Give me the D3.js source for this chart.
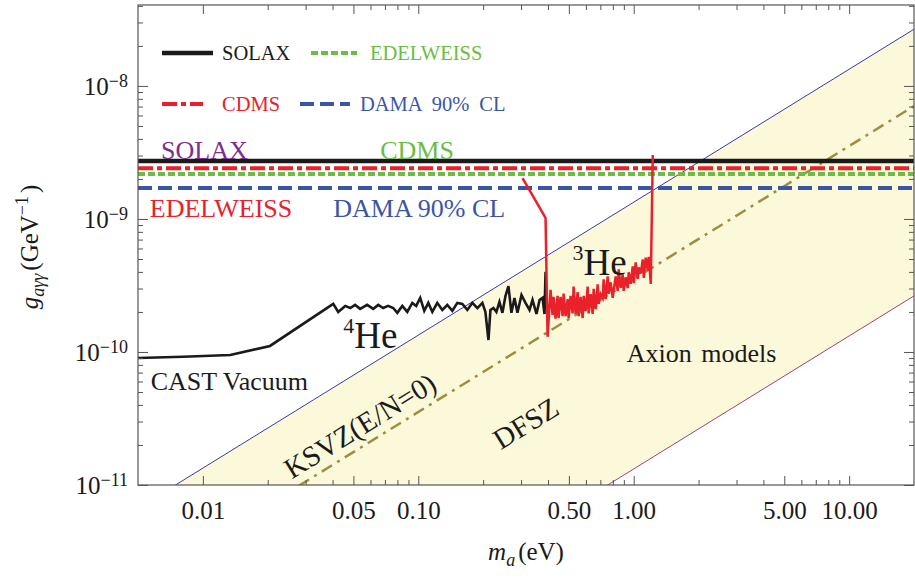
<!DOCTYPE html>
<html>
<head>
<meta charset="utf-8">
<script src="https://cdn.jsdelivr.net/npm/d3@7"></script>
<style>
  body { margin: 0; background: #fff; }
  text { font-family: "Liberation Serif", "Times New Roman", serif; }
</style>
</head>
<body>
<div id="chart"></div>
<script>
var svgWidth = 915;
var svgHeight = 578;

var margin = { top: 5, right: 1, bottom: 93, left: 138 };
var width = svgWidth - margin.left - margin.right;
var height = svgHeight - margin.top - margin.bottom;

// ---- data ----
var massDomain = [0.005, 20];          // eV
var couplingDomain = [1e-11, 4.06e-8]; // GeV^-1

var xTickValues = [0.01, 0.05, 0.1, 0.5, 1, 5, 10];
var xTickLabels = ["0.01", "0.05", "0.10", "0.50", "1.00", "5.00", "10.00"];
var yTickValues = [1e-11, 1e-10, 1e-9, 1e-8];
var yTickExps = ["\u221211", "\u221210", "\u22129", "\u22128"];

var expNames = ["SOLAX", "CDMS", "EDELWEISS", "DAMA 90% CL"];
var expLimits = [2.73e-9, 2.41e-9, 2.18e-9, 1.71e-9];

// axion model band edges and KSVZ line (end points, mass in eV, g in GeV^-1)
var bandMasses = [0.005, 20];
var bandUpper = [6.7e-12, 2.67e-8];
var bandLower = [6.6e-14, 2.64e-10];
var ksvzG = [1.77e-12, 7.06e-9];

// CAST limits: [mass eV, g in units of 1e-10 GeV^-1]
var gUnit = 1e-10;
var cast4He = [
  [0.005, 0.90], [0.0081, 0.92], [0.0134, 0.95], [0.0205, 1.11], [0.0403, 2.30],
  [0.0425, 2.00], [0.0458, 2.22], [0.0483, 2.14], [0.0509, 2.26], [0.0537, 2.11],
  [0.0579, 2.26], [0.0618, 2.11], [0.0652, 2.26], [0.0687, 2.14], [0.0725, 2.22],
  [0.0765, 2.14], [0.0799, 1.97], [0.0843, 2.22], [0.0889, 2.00], [0.0938, 2.34],
  [0.0978, 2.22], [0.1021, 2.55], [0.1066, 2.04], [0.1113, 2.34], [0.1162, 2.00],
  [0.1225, 2.34], [0.1293, 2.07], [0.1364, 2.26], [0.1439, 2.04], [0.1518, 2.34],
  [0.1602, 2.30], [0.1690, 2.07], [0.1783, 2.34], [0.1881, 2.14], [0.1984, 2.34],
  [0.2049, 2.00], [0.2117, 1.23], [0.2162, 2.07], [0.2233, 2.14], [0.2305, 2.00],
  [0.2381, 2.38], [0.2458, 1.97], [0.2539, 2.63], [0.2621, 3.13], [0.2706, 1.97],
  [0.2796, 2.55], [0.2886, 1.97], [0.3014, 2.68], [0.3145, 2.34], [0.3284, 2.07],
  [0.3391, 2.46], [0.3537, 1.93], [0.3656, 2.46], [0.3774, 2.55], [0.3855, 1.93],
  [0.3897, 4.00]
];
var cast3He = [
  [0.3047, 20.3], [0.3897, 10.2], [0.3982, 1.30],
  [0.4111, 2.93], [0.4200, 1.90], [0.4245, 2.60], [0.4337, 1.78], [0.4431, 2.64],
  [0.4479, 1.80], [0.4576, 2.60], [0.4676, 1.86], [0.4727, 2.75], [0.4828, 1.86],
  [0.4934, 2.50], [0.4987, 1.80], [0.5093, 2.64], [0.5204, 1.95], [0.5261, 3.10],
  [0.5373, 1.93], [0.5491, 2.82], [0.5550, 1.86], [0.5669, 2.60], [0.5794, 1.80],
  [0.5856, 2.64], [0.5981, 2.03], [0.6112, 3.10], [0.6178, 1.95], [0.6310, 2.72],
  [0.6448, 1.93], [0.6518, 2.98], [0.6657, 2.10], [0.6803, 3.22], [0.6876, 2.30],
  [0.7023, 2.72], [0.7176, 2.55], [0.7253, 3.52], [0.7409, 2.50], [0.7571, 3.70],
  [0.7653, 2.74], [0.7816, 3.34], [0.7987, 2.55], [0.8246, 3.70], [0.8426, 2.88],
  [0.8518, 4.18], [0.8699, 3.03], [0.8889, 3.84], [0.8985, 2.88], [0.9178, 3.64],
  [0.9378, 3.03], [0.9480, 3.97], [0.9683, 3.25], [0.9895, 4.40], [1.0003, 3.30],
  [1.0216, 4.72], [1.0441, 3.55], [1.0554, 4.32], [1.0779, 3.88], [1.1016, 4.96],
  [1.1137, 3.60], [1.1370, 5.12], [1.1620, 4.10], [1.1747, 5.20], [1.1998, 3.25],
  [1.2260, 30.3]
];

// ---- styles ----
var expStyle = {
  "SOLAX":       { color: "#1a1a1a", dash: null,       w: 4.5 },
  "CDMS":        { color: "#e8212b", dash: "15,4,5,4", w: 4 },
  "EDELWEISS":   { color: "#6cbd45", dash: "7,3",      w: 4 },
  "DAMA 90% CL": { color: "#3b55a5", dash: "14,6",     w: 4 }
};
var serif = '"Liberation Serif", "Times New Roman", serif';

var svg = d3.select("#chart")
  .append("svg")
  .attr("width", svgWidth)
  .attr("height", svgHeight);

var chartGroup = svg.append("g")
  .attr("transform", `translate(${margin.left}, ${margin.top})`);

var x = d3.scaleLog().domain(massDomain).range([0, width]);
var y = d3.scaleLog().domain(couplingDomain).range([height, 0]);

svg.append("defs").append("clipPath")
  .attr("id", "plotClip")
  .append("rect")
  .attr("width", width)
  .attr("height", height);

var plot = chartGroup.append("g").attr("clip-path", "url(#plotClip)");

// axion band
var band = d3.area()
  .x(d => x(d))
  .y0((d, i) => y(bandLower[i]))
  .y1((d, i) => y(bandUpper[i]));

plot.append("path")
  .datum(bandMasses)
  .attr("d", band)
  .attr("fill", "#fcf8da");

var edgeLine = function(vals) {
  return d3.line().x(d => x(d))
    .y((d, i) => y(vals[i]))(bandMasses);
};

plot.append("path").attr("d", edgeLine(bandUpper))
  .attr("fill", "none").attr("stroke", "#3a3aa8").attr("stroke-width", 1);
plot.append("path").attr("d", edgeLine(bandLower))
  .attr("fill", "none").attr("stroke", "#a4426e").attr("stroke-width", 1);
plot.append("path").attr("d", edgeLine(ksvzG))
  .attr("fill", "none").attr("stroke", "#9e8f3e").attr("stroke-width", 2.5)
  .attr("stroke-dasharray", "12,6,3,6");

// horizontal experiment limits
plot.selectAll(".limit")
  .data(expNames)
  .enter()
  .append("line")
  .attr("class", "limit")
  .attr("x1", 0)
  .attr("x2", width)
  .attr("y1", (d, i) => y(expLimits[i]))
  .attr("y2", (d, i) => y(expLimits[i]))
  .attr("stroke", d => expStyle[d].color)
  .attr("stroke-width", d => expStyle[d].w)
  .attr("stroke-dasharray", d => expStyle[d].dash);

// CAST curves
var castLine = d3.line()
  .x(d => x(d[0]))
  .y(d => y(d[1] * gUnit));

plot.append("path").datum(cast4He).attr("d", castLine)
  .attr("fill", "none").attr("stroke", "#1a1a1a").attr("stroke-width", 2.6)
  .attr("stroke-linejoin", "miter");
plot.append("path").datum(cast3He).attr("d", castLine)
  .attr("fill", "none").attr("stroke", "#e8212b").attr("stroke-width", 2.5);

// ---- labels inside plot ----
function addLabel(txt, m, g, color, size) {
  return chartGroup.append("text")
    .attr("x", x(m)).attr("y", y(g))
    .attr("fill", color)
    .style("font-size", size + "px")
    .text(txt);
}
addLabel("SOLAX", 0.0064, 2.83e-9, "#7d2e8e", 26);
addLabel("CDMS", 0.0666, 2.83e-9, "#6cbd45", 26);
addLabel("EDELWEISS", 0.00567, 1.035e-9, "#e8212b", 26);
addLabel("DAMA 90% CL", 0.0403, 1.035e-9, "#3b55a5", 26);
addLabel("CAST Vacuum", 0.00573, 5.18e-11, "#1a1a1a", 26);
addLabel("Axion models", 0.928, 8.41e-11, "#1a1a1a", 26)
  .style("word-spacing", "3px");

function addIsotope(num, m, g) {
  var t = chartGroup.append("text")
    .attr("x", x(m)).attr("y", y(g) - 15)
    .attr("fill", "#1a1a1a");
  t.append("tspan").style("font-size", "22px").text(num);
  t.append("tspan").attr("dy", 15).style("font-size", "37px").text("He");
}
addIsotope("4", 0.0448, 1.07e-10);
addIsotope("3", 0.520, 3.79e-10);

// rotated model labels follow the slope of the band
var angle = Math.atan2(y(ksvzG[1]) - y(ksvzG[0]), x(bandMasses[1]) - x(bandMasses[0])) * 180 / Math.PI;
function addSlanted(txt, m, g) {
  chartGroup.append("text")
    .attr("transform", `translate(${x(m)}, ${y(g)}) rotate(${angle})`)
    .attr("text-anchor", "middle")
    .attr("dy", "0.35em")
    .attr("fill", "#1a1a1a")
    .style("font-size", "29px")
    .text(txt);
}
addSlanted("KSVZ(E/N=0)", 0.0535, 2.80e-11);
addSlanted("DFSZ", 0.315, 2.92e-11);

// ---- legend ----
var legendItems = [
  { name: "SOLAX", lx: 24, ly: 48, len: 51, tx: 84 },
  { name: "EDELWEISS", lx: 173, ly: 48, len: 46, tx: 232 },
  { name: "CDMS", lx: 24, ly: 99, len: 41, tx: 84 },
  { name: "DAMA 90% CL", lx: 162, ly: 99, len: 50, tx: 222 }
];
var legend = chartGroup.append("g");
legendItems.forEach(function(it) {
  var st = expStyle[it.name];
  legend.append("line")
    .attr("x1", it.lx).attr("x2", it.lx + it.len)
    .attr("y1", it.ly).attr("y2", it.ly)
    .attr("stroke", st.color).attr("stroke-width", st.w)
    .attr("stroke-dasharray", st.dash);
  legend.append("text")
    .attr("x", it.tx).attr("y", it.ly + 7)
    .attr("fill", st.color)
    .style("font-size", "20.5px")
    .style("word-spacing", "5px")
    .text(it.name);
});

// ---- axes & frame ----
var xMinor = [];
[0.01, 0.1, 1].forEach(function(dec) {
  [2, 3, 4, 6, 7, 8, 9].forEach(k => xMinor.push(k * dec));
});
var yMinor = [];
[1e-11, 1e-10, 1e-9, 1e-8].forEach(function(dec) {
  [2, 3, 4, 5, 6, 7, 8, 9].forEach(function(k) {
    if (k * dec < couplingDomain[1]) yMinor.push(k * dec);
  });
});

function styleAxis(g) {
  g.select(".domain").remove();
  g.attr("font-family", null);
  g.selectAll("line").attr("stroke", "#555");
  g.selectAll("text")
    .style("font-family", serif)
    .style("font-size", "25px")
    .attr("fill", "#1a1a1a");
}

chartGroup.append("g").attr("transform", `translate(0, ${height})`)
  .call(d3.axisBottom(x).tickValues(xTickValues).tickSize(-9).tickPadding(16)
    .tickFormat((d, i) => xTickLabels[i]))
  .call(styleAxis);
chartGroup.append("g").attr("transform", `translate(0, ${height})`)
  .call(d3.axisBottom(x).tickValues(xMinor).tickSize(-5).tickFormat(""))
  .call(styleAxis);
chartGroup.append("g")
  .call(d3.axisTop(x).tickValues(xTickValues).tickSize(-9).tickFormat(""))
  .call(styleAxis);
chartGroup.append("g")
  .call(d3.axisTop(x).tickValues(xMinor).tickSize(-5).tickFormat(""))
  .call(styleAxis);

chartGroup.append("g")
  .call(d3.axisLeft(y).tickValues(yTickValues).tickSize(-10).tickFormat(""))
  .call(styleAxis);
chartGroup.append("g")
  .call(d3.axisLeft(y).tickValues(yMinor).tickSize(-5).tickFormat(""))
  .call(styleAxis);
chartGroup.append("g").attr("transform", `translate(${width}, 0)`)
  .call(d3.axisRight(y).tickValues(yTickValues).tickSize(-10).tickFormat(""))
  .call(styleAxis);
chartGroup.append("g").attr("transform", `translate(${width}, 0)`)
  .call(d3.axisRight(y).tickValues(yMinor).tickSize(-5).tickFormat(""))
  .call(styleAxis);

// y tick labels 10^n
yTickValues.forEach(function(v, i) {
  var t = chartGroup.append("text")
    .attr("x", -10)
    .attr("y", y(v) + 9)
    .attr("text-anchor", "end")
    .attr("fill", "#1a1a1a")
    .style("font-size", "25px");
  t.append("tspan").text("10");
  t.append("tspan").attr("dy", -8).style("font-size", "18px").text(yTickExps[i]);
});

chartGroup.append("rect")
  .attr("width", width)
  .attr("height", height)
  .attr("fill", "none")
  .attr("stroke", "#555")
  .attr("stroke-width", 1.2);

// axis titles
var xTitle = svg.append("text")
  .attr("x", margin.left + width / 2)
  .attr("y", 560)
  .attr("text-anchor", "middle")
  .attr("fill", "#1a1a1a")
  .style("font-size", "25px");
xTitle.append("tspan").style("font-style", "italic").text("m");
xTitle.append("tspan").attr("dy", 6).style("font-style", "italic").style("font-size", "18px").text("a");
xTitle.append("tspan").attr("dy", -6).attr("dx", 3).text("(eV)");

var yTitle = svg.append("text")
  .attr("transform", "translate(38, 247) rotate(-90)")
  .attr("text-anchor", "middle")
  .attr("fill", "#1a1a1a")
  .style("font-size", "25px");
yTitle.append("tspan").style("font-style", "italic").text("g");
yTitle.append("tspan").attr("dy", 6).style("font-style", "italic").style("font-size", "18px").text("a\u03b3\u03b3");
yTitle.append("tspan").attr("dy", -6).attr("dx", 3).text("(GeV");
yTitle.append("tspan").attr("dy", -10).style("font-size", "18px").text("\u22121");
yTitle.append("tspan").attr("dy", 10).attr("dx", 3).text(")");
</script>
</body>
</html>
